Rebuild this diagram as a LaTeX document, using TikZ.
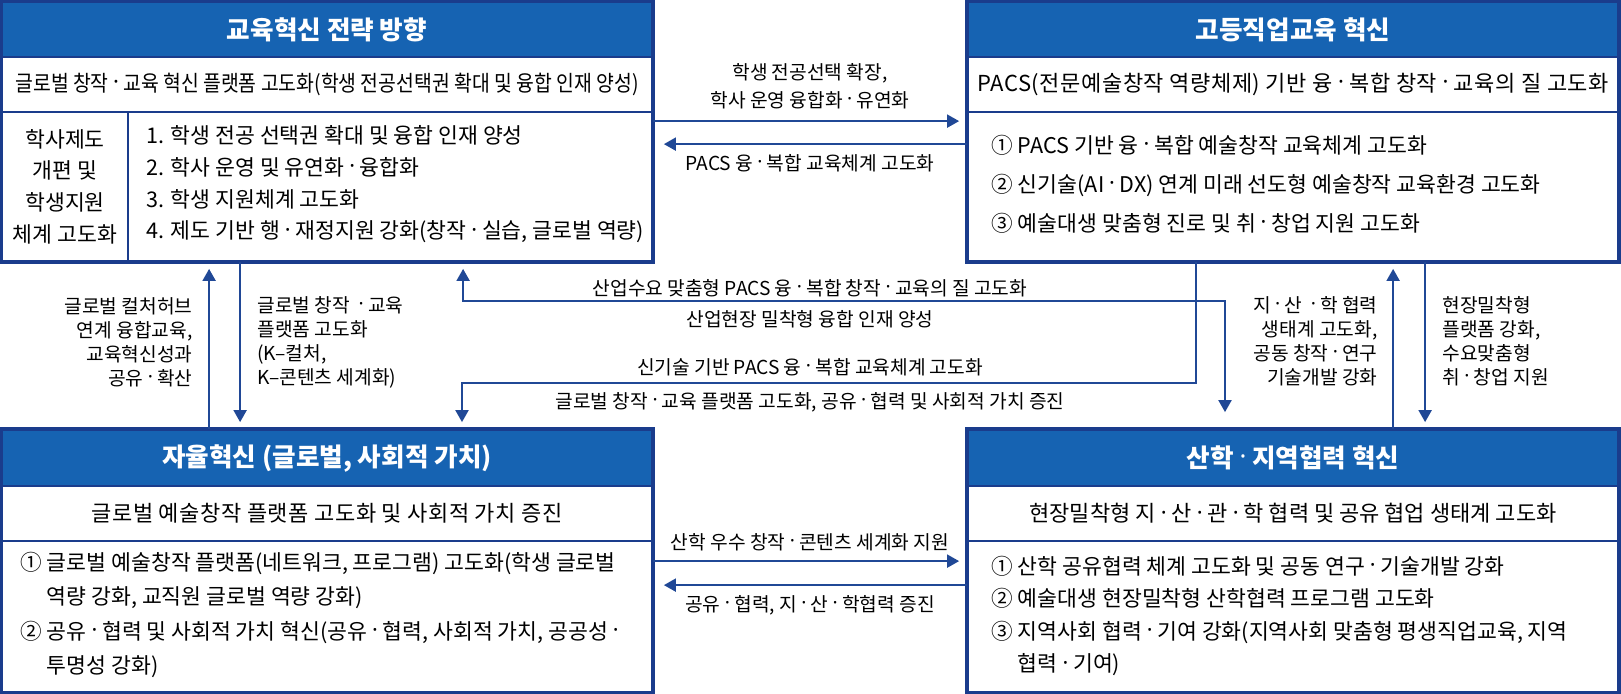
\documentclass[tikz,border=0pt]{standalone}
\usepackage{fontspec}
\setmainfont{Noto Sans CJK KR}
\newfontfamily\condfont{Noto Sans CJK KR}[FakeStretch=0.88]
\newfontfamily\loosefont{Noto Sans CJK KR}[LetterSpace=2.6]
\newfontfamily\dotfont{Noto Sans}
\newcommand\mdot{{\dotfont\raisebox{0.08em}{·}}}
\definecolor{headblue}{RGB}{22, 99, 178}
\definecolor{framenavy}{RGB}{26, 60, 140}
\definecolor{flownavy}{RGB}{32, 72, 150}
\usetikzlibrary{arrows.meta, calc}
\tikzset{flowhead/.tip={Triangle[length=6pt, width=6.5pt]}}

\begin{document}
\begin{tikzpicture}[x=0.5pt, y=-0.5pt,
  headbar/.style={draw=framenavy, line width=0.9pt, fill=headblue, text=white, inner sep=0pt,
    font=\fontsize{12.8}{15}\selectfont\bfseries, minimum width=325pt, minimum height=27.5pt},
  subrow/.style={draw=framenavy, line width=0.9pt, fill=white, inner sep=0pt,
    font=\fontsize{11}{13}\selectfont, minimum width=325pt, minimum height=27.5pt},
  bodyrow/.style={draw=framenavy, line width=0.9pt, fill=white, inner sep=0pt},
  itemtext/.style={anchor=west, align=left, inner sep=0pt},
  frame/.style={draw=framenavy, line width=1.8pt},
  flow/.style={draw=flownavy, line width=1pt, -flowhead, shorten >=3.5pt},
  flowlabel/.style={inner sep=0pt, font=\fontsize{9.6}{12}\selectfont}]
  \useasboundingbox (0,0) rectangle (1621,693);
  \fill[white] (0,0) rectangle (1621,693);

  % top left box
  \node[headbar] (tlhead) at (327, 29.5) {교육혁신 전략 방향};
  \node[subrow, font=\condfont\fontsize{11}{13}\selectfont] (tlsub) at (327, 84.5)
    {글로벌 창작 \mdot{} 교육 혁신 플랫폼 고도화(학생 전공선택권 확대 및 융합 인재 양성)};
  \node[bodyrow, align=center, minimum width=63pt, minimum height=74.5pt,
    font=\fontsize{10.8}{15.85}\selectfont] (tlside) at (65, 186.5)
    {학사제도\\개편 및\\학생지원\\체계 고도화};
  \node[bodyrow, minimum width=262pt, minimum height=74.5pt] (tlbody) at (390, 186.5) {};
  \node[itemtext, font=\fontsize{10.8}{15.85}\selectfont] (tllist) at ($(tlbody.west)+(19,-2)$) {
    1. 학생 전공 선택권 확대 및 융합 인재 양성\\
    2. 학사 운영 및 유연화 \mdot{} 융합화\\
    3. 학생 지원체계 고도화\\
    4. 제도 기반 행 \mdot{} 재정지원 강화(창작 \mdot{} 실습, 글로벌 역량)};
  \draw[frame] (tlhead.north west) rectangle (tlbody.south east);

  % top right box
  \node[headbar] (trhead) at (1293, 29.5) {고등직업교육 혁신};
  \node[subrow, font=\loosefont\fontsize{11}{13}\selectfont] (trsub) at (1293, 84.5)
    {PACS(전문예술창작 역량체제) 기반 융 \mdot{} 복합 창작 \mdot{} 교육의 질 고도화};
  \node[bodyrow, minimum width=325pt, minimum height=74.5pt] (trbody) at (1293, 186.5) {};
  \node[itemtext, font=\fontsize{10.8}{19.5}\selectfont] (trlist) at ($(trbody.west)+(24,-2.5)$) {
    ① PACS 기반 융 \mdot{} 복합 예술창작 교육체계 고도화\\
    ② 신기술(AI \mdot{} DX) 연계 미래 선도형 예술창작 교육환경 고도화\\
    ③ 예술대생 맞춤형 진로 및 취 \mdot{} 창업 지원 고도화};
  \draw[frame] (trhead.north west) rectangle (trbody.south east);

  % bottom left box
  \node[headbar, minimum height=28pt] (blhead) at (327, 458) {자율혁신 (글로벌, 사회적 가치)};
  \node[subrow, font=\loosefont\fontsize{11}{13}\selectfont] (blsub) at (327, 513.5)
    {글로벌 예술창작 플랫폼 고도화 및 사회적 가치 증진};
  \node[bodyrow, minimum width=325pt, minimum height=75.5pt] (blbody) at (327, 616.5) {};
  \node[itemtext, font=\fontsize{10.8}{17.3}\selectfont] (bllist) at ($(blbody.west)+(19,-1.5)$) {
    ① 글로벌 예술창작 플랫폼(네트워크, 프로그램) 고도화(학생 글로벌\\
    \hphantom{① }역량 강화, 교직원 글로벌 역량 강화)\\
    ② 공유 \mdot{} 협력 및 사회적 가치 혁신(공유 \mdot{} 협력, 사회적 가치, 공공성 \mdot\\
    \hphantom{② }투명성 강화)};
  \draw[frame] (blhead.north west) rectangle (blbody.south east);

  % bottom right box
  \node[headbar, minimum height=28pt] (brhead) at (1293, 458) {산학 \mdot{} 지역협력 혁신};
  \node[subrow] (brsub) at (1293, 513.5)
    {현장밀착형 지 \mdot{} 산 \mdot{} 관 \mdot{} 학 협력 및 공유 협업 생태계 고도화};
  \node[bodyrow, minimum width=325pt, minimum height=75.5pt] (brbody) at (1293, 616.5) {};
  \node[itemtext, font=\fontsize{10.8}{16.3}\selectfont] (brlist) at ($(brbody.west)+(24,-0.5)$) {
    ① 산학 공유협력 체계 고도화 및 공동 연구 \mdot{} 기술개발 강화\\
    ② 예술대생 현장밀착형 산학협력 프로그램 고도화\\
    ③ 지역사회 협력 \mdot{} 기여 강화(지역사회 맞춤형 평생직업교육, 지역\\
    \hphantom{③ }협력 \mdot{} 기여)};
  \draw[frame] (brhead.north west) rectangle (brbody.south east);

  % connectors between top boxes
  \draw[flow, shorten >=4pt] ($(tlbody.north east)+(0,10)$) -- ($(trbody.north west)+(0,10)$);
  \draw[flow, shorten >=5.5pt] ($(trbody.north west)+(0,33)$) -- ($(tlbody.north east)+(0,33)$);
  \node[flowlabel, align=center, font=\fontsize{9.6}{14}\selectfont] (studentlabel) at (810, 86)
    {학생 전공선택 확장,\\학사 운영 융합화 \mdot{} 유연화};
  \node[flowlabel] (pacslabel) at (810, 163) {PACS 융 \mdot{} 복합 교육체계 고도화};

  % left column connectors
  \draw[flow] ($(blhead.north west)+(208,0)$) -- ($(tlside.south west)+(208,0)$);
  \draw[flow] ($(tlside.south west)+(239,0)$) -- ($(blhead.north west)+(239,0)$);
  \node[flowlabel, align=right, anchor=east] (hublabel) at (193, 342)
    {글로벌 컬처허브\\연계 융합교육,\\교육혁신성과\\공유 \mdot{} 확산};
  \node[flowlabel, align=left, anchor=west] (kculturelabel) at (257, 342)
    {글로벌 창작 \ \mdot{} 교육\\플랫폼 고도화\\(K–컬처,\\K–콘텐츠 세계화)};

  % crossing connectors
  \coordinate (midknee) at (1225, 301);
  \coordinate (lowknee) at (462, 383);
  \draw[flow, flowhead-flowhead, shorten <=3.5pt, shorten >=8.5pt]
    ($(tlbody.south west)+(336,0)$) |- (midknee) -- (midknee |- brhead.north);
  \draw[flow] ($(trbody.south west)+(229,0)$) |- (lowknee) -- (lowknee |- blhead.north);
  \node[flowlabel] (needlabel) at (810, 288)
    {산업수요 맞춤형 PACS 융 \mdot{} 복합 창작 \mdot{} 교육의 질 고도화};
  \node[flowlabel] (fieldtalent) at (810, 319) {산업현장 밀착형 융합 인재 양성};
  \node[flowlabel] (techlabel) at (810, 367) {신기술 기반 PACS 융 \mdot{} 복합 교육체계 고도화};
  \node[flowlabel] (sharevalue) at (810, 402)
    {글로벌 창작 \mdot{} 교육 플랫폼 고도화, 공유 \mdot{} 협력 및 사회적 가치 증진};

  % right column connectors
  \draw[flow] ($(brhead.north west)+(426,0)$) -- ($(trbody.south west)+(426,0)$);
  \draw[flow] ($(trbody.south west)+(458,0)$) -- ($(brhead.north west)+(458,0)$);
  \node[flowlabel, align=right, anchor=east] (ecolabel) at (1378, 341)
    {지 \mdot{} 산 \ \mdot{} 학 협력\\생태계 고도화,\\공동 창작 \mdot{} 연구\\기술개발 강화};
  \node[flowlabel, align=left, anchor=west] (onsitelabel) at (1442, 341)
    {현장밀착형\\플랫폼 강화,\\수요맞춤형\\취 \mdot{} 창업 지원};

  % connectors between bottom boxes
  \draw[flow, shorten >=4pt] ($(blbody.north east)+(0,21)$) -- ($(brbody.north west)+(0,21)$);
  \draw[flow, shorten >=5.5pt] ($(brbody.north west)+(0,45)$) -- ($(blbody.north east)+(0,45)$);
  \node[flowlabel] (contentlabel) at (810, 542) {산학 우수 창작 \mdot{} 콘텐츠 세계화 지원};
  \node[flowlabel] (cooplabel) at (810, 605) {공유 \mdot{} 협력, 지 \mdot{} 산 \mdot{} 학협력 증진};
\end{tikzpicture}
\end{document}
